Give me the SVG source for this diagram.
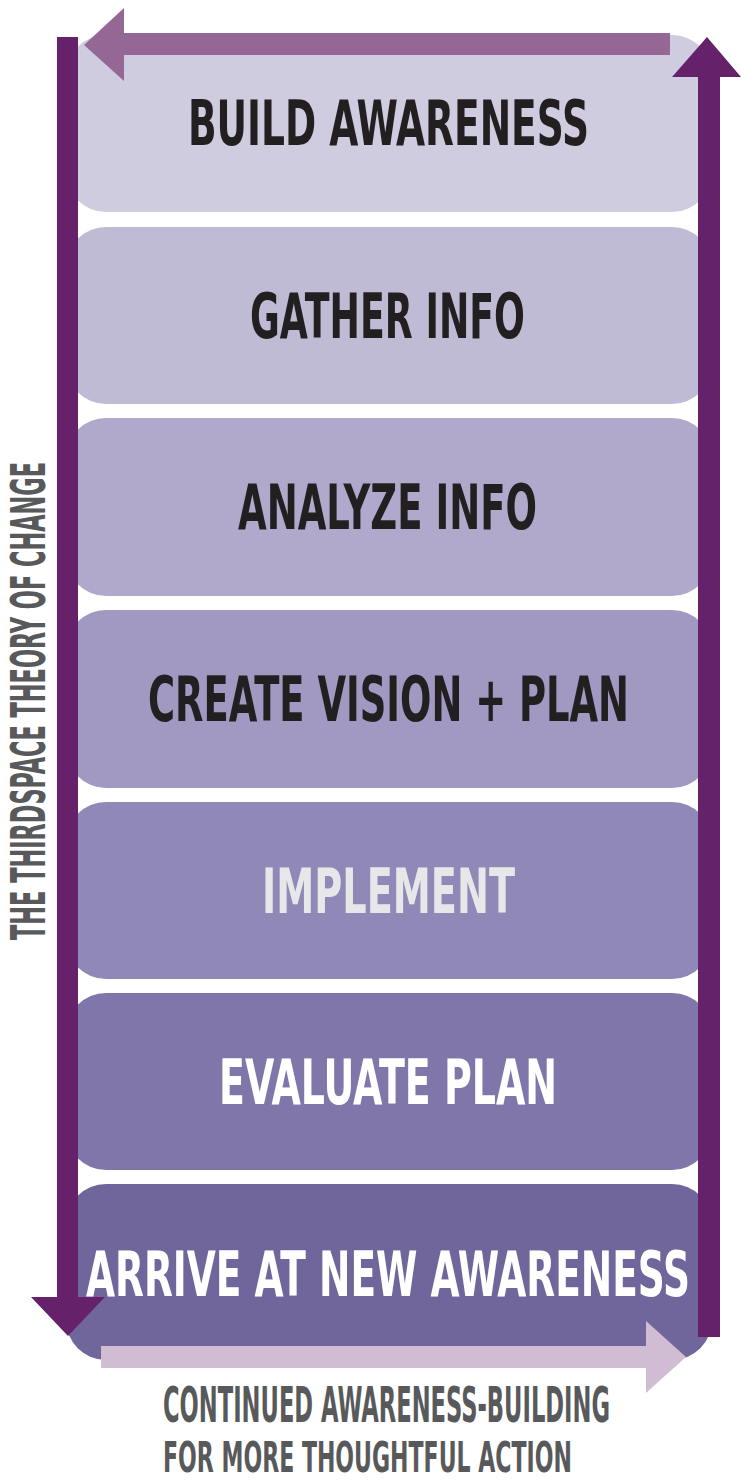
<svg xmlns="http://www.w3.org/2000/svg" width="741" height="1482" viewBox="0 0 741 1482">
<style>
.box{stroke:none}
.lbl{font-family:"DejaVu Sans Condensed","DejaVu Sans",sans-serif;font-weight:bold;font-size:42px}
.dark{fill:#231f20}
.note{font-family:"DejaVu Sans Condensed","DejaVu Sans",sans-serif;font-weight:bold;fill:#58595b}
</style>
<rect width="741" height="1482" fill="#ffffff"/>
<g id="node-build"><rect class="box" x="66" y="35" width="646" height="177" rx="40" fill="#cfcce0"/><text class="lbl dark" transform="translate(188,145) scale(1,1.47)" textLength="401" lengthAdjust="spacingAndGlyphs">BUILD AWARENESS</text></g>
<g id="node-gather"><rect class="box" x="66" y="227" width="646" height="177" rx="40" fill="#c0bbd5"/><text class="lbl dark" transform="translate(250,338) scale(1,1.47)" textLength="275" lengthAdjust="spacingAndGlyphs">GATHER INFO</text></g>
<g id="node-analyze"><rect class="box" x="66" y="418" width="646" height="178" rx="40" fill="#b1a9cb"/><text class="lbl dark" transform="translate(238,529) scale(1,1.47)" textLength="299" lengthAdjust="spacingAndGlyphs">ANALYZE INFO</text></g>
<g id="node-create"><rect class="box" x="66" y="610" width="646" height="178" rx="40" fill="#a199c2"/><text class="lbl dark" transform="translate(148,721) scale(1,1.47)" textLength="481" lengthAdjust="spacingAndGlyphs">CREATE VISION + PLAN</text></g>
<g id="node-implement"><rect class="box" x="66" y="802" width="646" height="177" rx="40" fill="#9088b6"/><text class="lbl" fill="#e6e7e8" transform="translate(262,913) scale(1,1.47)" textLength="253" lengthAdjust="spacingAndGlyphs">IMPLEMENT</text></g>
<g id="node-evaluate"><rect class="box" x="66" y="993" width="646" height="177" rx="40" fill="#8076aa"/><text class="lbl" fill="#ffffff" transform="translate(219,1104) scale(1,1.47)" textLength="338" lengthAdjust="spacingAndGlyphs">EVALUATE PLAN</text></g>
<g id="node-arrive"><rect class="box" x="66" y="1184" width="646" height="176" rx="40" fill="#71669c"/><text class="lbl" fill="#ffffff" transform="translate(86,1296) scale(1,1.5)" textLength="604" lengthAdjust="spacingAndGlyphs">ARRIVE AT NEW AWARENESS</text></g>
<g id="connectors">
<polygon id="arrow-down" fill="#65226a" points="57,37 78,37 78,1297 105,1297 68,1336 31,1297 57,1297"/>
<polygon id="arrow-up" fill="#65226a" points="698,1337 720,1337 720,77 741,77 707,37 672,77 698,77"/>
<polygon id="arrow-left" fill="#956795" points="670,33 670,55 124,55 124,81 84,45 124,8 124,33"/>
<polygon id="arrow-right" fill="#d1bdd3" points="101,1346 646,1346 646,1321 686,1357 646,1393 646,1368 101,1368"/>
</g>
<g id="side-label"><text class="note" style="font-size:26px" transform="translate(45,940) rotate(-90) scale(1,1.84)" textLength="478" lengthAdjust="spacingAndGlyphs">THE THIRDSPACE THEORY OF CHANGE</text></g>
<g id="bottom-label">
<text class="note" style="font-size:24px" transform="translate(163,1422) scale(1,2.1)" textLength="447" lengthAdjust="spacingAndGlyphs">CONTINUED AWARENESS-BUILDING</text>
<text class="note" style="font-size:24px" transform="translate(163,1472) scale(1,1.75)" textLength="409" lengthAdjust="spacingAndGlyphs">FOR MORE THOUGHTFUL ACTION</text>
</g>
</svg>
